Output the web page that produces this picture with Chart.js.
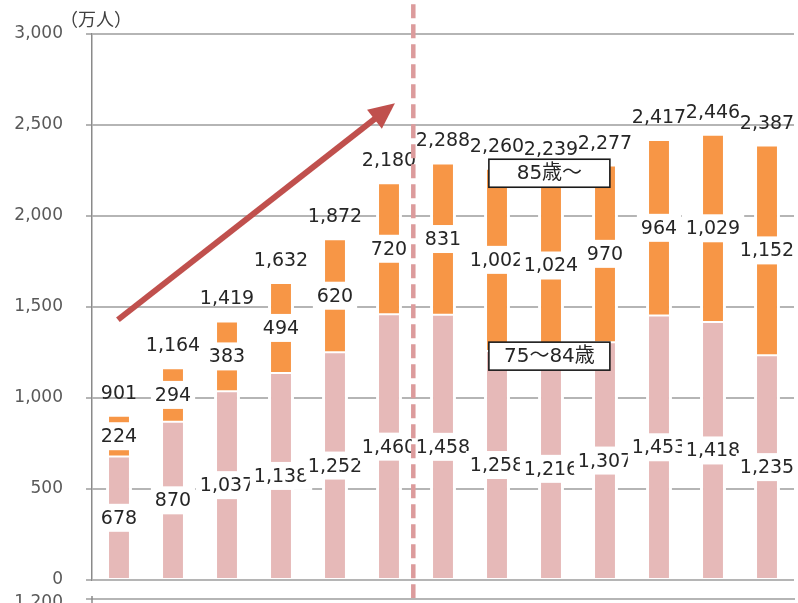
<!DOCTYPE html>
<html>
<head>
<meta charset="utf-8">
<script src="https://cdn.jsdelivr.net/npm/chart.js@4/dist/chart.umd.min.js"></script>
<style>
  html, body { margin: 0; padding: 0; background: #ffffff; }
  #wrap { width: 798px; height: 603px; position: relative; }
</style>
</head>
<body>
<div id="wrap"><canvas id="c" width="798" height="603"></canvas></div>
<script>
// ---- data ----
const categories = ['2000', '2005', '2010', '2015', '2020', '2025', '2030', '2035', '2040', '2045', '2050', '2055', '2060'];
const age75to84 = [678, 870, 1037, 1138, 1252, 1460, 1458, 1258, 1216, 1307, 1453, 1418, 1235];
const age85plus = [224, 294, 383, 494, 620, 720, 831, 1002, 1024, 970, 964, 1029, 1152];
const totals = [901, 1164, 1419, 1632, 1872, 2180, 2288, 2260, 2239, 2277, 2417, 2446, 2387];
const seriesNames = ['75～84歳', '85歳～'];
const unitLabel = '（万人）';
const yMin = 0, yMax = 3000, yStep = 500;
const cutOffTickLabel = '1,200';

const fmt = v => Number(v).toLocaleString('en-US');
const NUM_FONT = '"DejaVu Sans", "Noto Sans CJK JP", sans-serif';
const CJK_FONT = '"DejaVu Sans", "Noto Sans CJK JP", sans-serif';

const decor = {
  id: 'decor',
  afterDatasetsDraw(chart) {
    const ctx = chart.ctx;
    const xs = chart.scales.x, ys = chart.scales.y;
    const area = chart.chartArea;
    ctx.save();

    // segment labels with white boxes
    ctx.font = '19px ' + NUM_FONT;
    ctx.textAlign = 'center';
    ctx.textBaseline = 'middle';
    chart.data.datasets.forEach((ds, di) => {
      const meta = chart.getDatasetMeta(di);
      meta.data.forEach((el, i) => {
        const cy = (el.y + el.base) / 2;
        const t = fmt(ds.data[i]);
        const w = ctx.measureText(t).width + 8;
        ctx.fillStyle = '#ffffff';
        ctx.fillRect(el.x - w / 2, cy - 14, w, 28);
        ctx.fillStyle = '#262626';
        ctx.fillText(t, el.x, cy + 1);
      });
    });

    // totals above bars
    const topEls = chart.getDatasetMeta(1).data;
    ctx.fillStyle = '#262626';
    totals.forEach((v, i) => {
      ctx.fillText(fmt(v), topEls[i].x, topEls[i].y - 22);
    });

    // series name boxes
    const boxes = [[seriesNames[1], 2235], [seriesNames[0], 1230]];
    ctx.font = '20px ' + CJK_FONT;
    boxes.forEach(([name, val]) => {
      const cx = xs.getPixelForValue(7.97);
      const cy = ys.getPixelForValue(val);
      const bw = 121, bh = 28;
      ctx.fillStyle = '#ffffff';
      ctx.fillRect(cx - bw / 2, cy - bh / 2, bw, bh);
      ctx.strokeStyle = '#1a1a1a';
      ctx.lineWidth = 1.6;
      ctx.strokeRect(cx - bw / 2, cy - bh / 2, bw, bh);
      ctx.fillStyle = '#262626';
      ctx.fillText(name, cx, cy + 1);
    });

    // arrow
    const sx = xs.getPixelForValue(-0.02), sy = ys.getPixelForValue(1430);
    const tx = xs.getPixelForValue(5.11), ty = ys.getPixelForValue(2620);
    const ang = Math.atan2(ty - sy, tx - sx);
    const hl = 26, hw = 12;
    const bx = tx - hl * Math.cos(ang), by = ty - hl * Math.sin(ang);
    ctx.strokeStyle = '#c0504d';
    ctx.fillStyle = '#c0504d';
    ctx.lineWidth = 6;
    ctx.lineCap = 'butt';
    ctx.beginPath();
    ctx.moveTo(sx, sy);
    ctx.lineTo(bx + 2 * Math.cos(ang), by + 2 * Math.sin(ang));
    ctx.stroke();
    ctx.beginPath();
    ctx.moveTo(tx, ty);
    ctx.lineTo(bx + hw * Math.sin(ang), by - hw * Math.cos(ang));
    ctx.lineTo(bx - hw * Math.sin(ang), by + hw * Math.cos(ang));
    ctx.closePath();
    ctx.fill();

    // dashed divider
    const dx = xs.getPixelForValue(5.45);
    ctx.strokeStyle = '#dc9b9c';
    ctx.lineWidth = 4.5;
    ctx.setLineDash([14, 6]);
    ctx.beginPath();
    ctx.moveTo(dx, ys.getPixelForValue(3163));
    ctx.lineTo(dx, chart.height);
    ctx.stroke();
    ctx.setLineDash([]);

    // unit label
    ctx.font = '18px "Noto Sans CJK JP", sans-serif';
    ctx.textAlign = 'left';
    ctx.fillStyle = '#404040';
    ctx.fillText(unitLabel, 60, 19);

    // cut-off axis of a following chart at the bottom
    const by2 = area.bottom + 19;
    ctx.strokeStyle = '#b5b5b5';
    ctx.lineWidth = 2;
    ctx.beginPath();
    ctx.moveTo(area.left - 6, by2);
    ctx.lineTo(area.right + 1, by2);
    ctx.stroke();
    ctx.strokeStyle = '#8a8a8a';
    ctx.lineWidth = 1.5;
    ctx.beginPath();
    ctx.moveTo(area.left, by2 - 3);
    ctx.lineTo(area.left, chart.height);
    ctx.stroke();
    ctx.font = '17px ' + NUM_FONT;
    ctx.textAlign = 'right';
    ctx.fillStyle = '#595959';
    ctx.fillText(cutOffTickLabel, area.left - 29, by2 + 4);

    ctx.restore();
  }
};

new Chart(document.getElementById('c'), {
  type: 'bar',
  data: {
    labels: categories,
    datasets: [
      {
        label: seriesNames[0],
        data: age75to84,
        backgroundColor: '#e6b9b8',
        borderColor: '#ffffff',
        borderWidth: { left: 3, right: 3, top: 1, bottom: 1 },
        borderSkipped: false,
        barPercentage: 0.48,
        categoryPercentage: 1
      },
      {
        label: seriesNames[1],
        data: age85plus,
        backgroundColor: '#f79646',
        borderColor: '#ffffff',
        borderWidth: { left: 3, right: 3, top: 1, bottom: 1 },
        borderSkipped: false,
        barPercentage: 0.48,
        categoryPercentage: 1
      }
    ]
  },
  options: {
    responsive: false,
    animation: false,
    layout: { padding: { top: 34, right: 4, bottom: 23, left: 0 } },
    plugins: { legend: { display: false }, tooltip: { enabled: false } },
    scales: {
      x: { stacked: true, display: false },
      y: {
        stacked: true,
        min: yMin,
        max: yMax,
        afterFit: s => { s.width = 92; },
        ticks: {
          stepSize: yStep,
          callback: v => fmt(v),
          font: { family: NUM_FONT, size: 17, lineHeight: '0px' },
          color: '#595959',
          padding: 23
        },
        grid: { color: '#b5b5b5', lineWidth: 2, tickLength: 6, tickColor: '#b5b5b5' },
        border: { display: true, color: '#8a8a8a', width: 1.5 }
      }
    }
  },
  plugins: [decor]
});
</script>
</body>
</html>
